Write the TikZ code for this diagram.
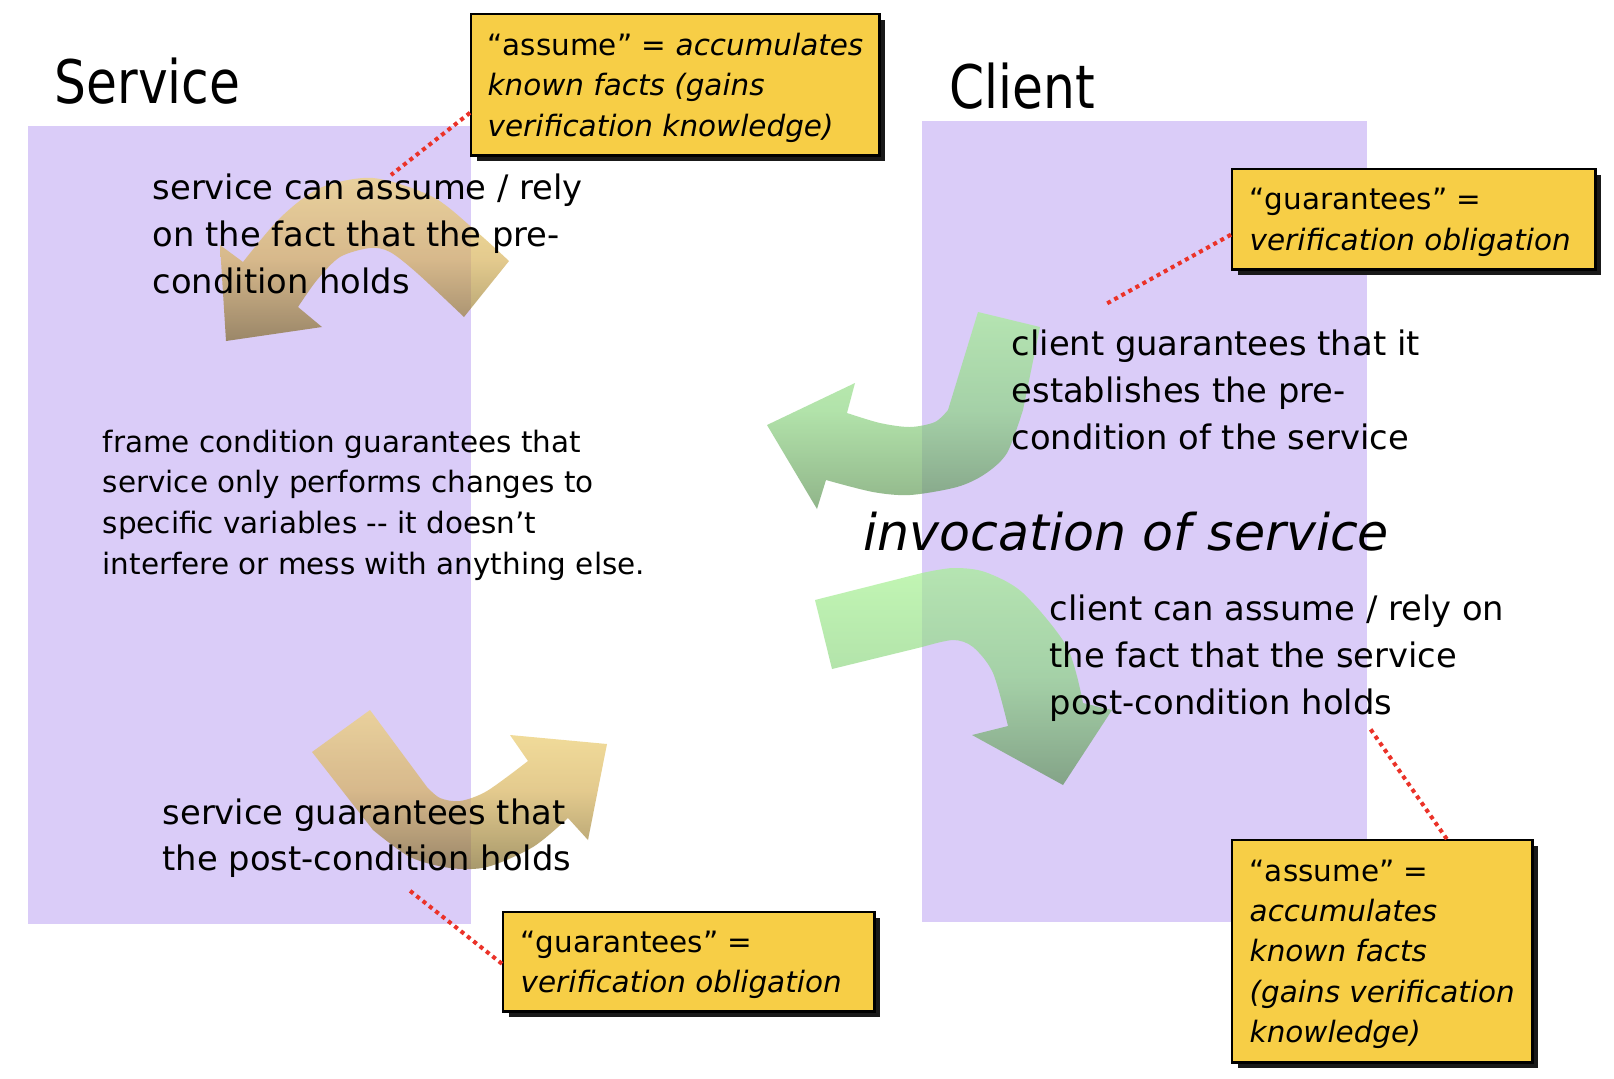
\documentclass[tikz,border=0pt]{standalone}
\usepackage{fontspec}
\setmainfont{DejaVu Sans}[ItalicFont={DejaVu Sans Oblique}]
\newfontfamily\titlefam{DejaVu Sans Condensed}[FakeStretch=0.93]
\usetikzlibrary{calc,shadows}
\definecolor{lav}{RGB}{218,204,248}
\definecolor{calloutfill}{RGB}{247,206,70}
\definecolor{dotred}{RGB}{235,50,40}
\definecolor{tanL}{RGB}{242,212,108}
\definecolor{tanM}{RGB}{214,175,82}
\definecolor{tanD}{RGB}{121,98,28}
\definecolor{grnL}{RGB}{162,242,140}
\definecolor{grnM}{RGB}{137,212,125}
\definecolor{grnD}{RGB}{86,142,76}
\pgfdeclareverticalshading{tanshade}{100bp}{color(0bp)=(tanD); color(25bp)=(tanD); color(50bp)=(tanM); color(75bp)=(tanL); color(100bp)=(tanL)}
\pgfdeclareverticalshading{grnshade}{100bp}{color(0bp)=(grnD); color(25bp)=(grnD); color(50bp)=(grnM); color(75bp)=(grnL); color(100bp)=(grnL)}
\newcommand\bodyfont{\fontsize{9.6pt}{13.37pt}\selectfont}
\newcommand\smallfont{\fontsize{8.37pt}{11.5pt}\selectfont}
\newcommand\invfont{\fontsize{14.4pt}{17pt}\selectfont\itshape}
\newcommand\titlefont{\titlefam\fontsize{17.07pt}{20pt}\selectfont}
\tikzset{
  panel/.style={fill=lav, draw=none},
  bigtxt/.style={anchor=north west, inner sep=0pt, align=left, font=\bodyfont},
  smalltxt/.style={anchor=north west, inner sep=0pt, align=left, font=\smallfont},
  titletxt/.style={anchor=base west, inner sep=0pt, font=\titlefont},
  callout/.style={draw=black, line width=0.7pt, fill=calloutfill, anchor=north west,
    inner sep=0pt,
    drop shadow={shadow xshift=0.06cm, shadow yshift=-0.06cm, fill=black!90, opacity=1}},
  callouttxt/.style={anchor=west, inner sep=0pt, align=left, font=\smallfont},
  tanarrow/.style={shading=tanshade, fill opacity=0.65, draw=none},
  grnarrow/.style={shading=grnshade, fill opacity=0.65, draw=none},
  reddots/.style={draw=dotred, line width=1.15pt, dash pattern=on 1.15pt off 1.15pt}
}
\begin{document}
\begin{tikzpicture}[x=0.01cm, y=-0.01cm]
\useasboundingbox (0,0) rectangle (1614,1078);
\fill[white] (0,0) rectangle (1614,1078);
% panels
\path[panel] (28,126) rectangle (471,924);
\path[panel] (922,121) rectangle (1367,922);
% tan arrow top
\path[tanarrow] (464,317) -- (509,261)
  -- plot[smooth] coordinates {(509,261) (477,232) (433,197) (373,178) (320,188) (280,218) (243,262)}
  -- (220,245) -- (226,341) -- (322,327) -- (298,307)
  -- plot[smooth] coordinates {(298,307) (317,280) (340,257) (370,248) (390,252) (417,273) (464,317)}
  -- cycle;
% tan arrow bottom
\path[tanarrow] (312,752) -- (370,710) -- (427,787)
  -- plot[smooth] coordinates {(427,787) (440,798) (460,801) (487,791) (528,761)}
  -- (510,735) -- (607,744) -- (588,840) -- (568,818)
  -- plot[smooth] coordinates {(568,818) (533,847) (487,867) (450,868) (410,857) (373,830)}
  -- cycle;
% green arrow upper
\path[grnarrow] (978,312) -- (1040,327) -- (1023,410)
  -- plot[smooth] coordinates {(1023,410) (1007,453) (985,474) (957,487) (910,495) (873,492) (826,480)}
  -- (817,509) -- (767,425) -- (855,383) -- (847,413)
  -- plot[smooth] coordinates {(847,413) (880,423) (910,427) (935,422) (948,410)}
  -- cycle;
% green arrow lower
\path[grnarrow] (815,600) -- (832,669) -- (922,647)
  -- plot[smooth] coordinates {(922,647) (953,640) (973,647) (993,673) (1008,726)}
  -- (972,735) -- (1063,785) -- (1112,710) -- (1083,703)
  -- plot[smooth] coordinates {(1083,703) (1067,647) (1023,593) (985,572) (953,568) (922,573)}
  -- cycle;
% titles
\node[titletxt] (tS) at (54,103) {Service};
\node[titletxt] (tC) at (949,108) {Client};
% texts
\node[bigtxt] (s1) at (152,173) {service can assume / rely\\on the fact that the pre-\\condition holds};
\node[smalltxt, font=\fontsize{8.37pt}{11.58pt}\selectfont] (fr) at (102,429) {frame condition guarantees that\\service only performs changes to\\specific variables -{}- it doesn’t\\interfere or mess with anything else.};
\node[bigtxt, font=\fontsize{9.6pt}{13.09pt}\selectfont] (s2) at (162,798) {service guarantees that\\the post-condition holds};
\node[bigtxt] (k1) at (1011,329) {client guarantees that it\\establishes the pre-\\condition of the service};
\node[bigtxt] (k2) at (1049,594) {client can assume / rely on\\the fact that the service\\post-condition holds};
\node[anchor=base west, inner sep=0pt, font=\invfont] (inv) at (863,550) {invocation of service};
% callouts
\node[callout, minimum width=4.08cm, minimum height=1.41cm] (c1) at (470,13) {};
\node[callout, minimum width=3.63cm, minimum height=1.00cm] (c2) at (1231,168) {};
\node[callout, minimum width=3.71cm, minimum height=0.99cm] (c3) at (502,911) {};
\node[callout, minimum width=3.00cm, minimum height=2.22cm] (c4) at (1231,839) {};
\node[callouttxt] (c1t) at ($(c1.west)+(17,3)$)
  {“assume” = \textit{accumulates}\\\textit{known facts (gains}\\\textit{verification knowledge)}};
\node[callouttxt] (c2t) at ($(c2.west)+(18,3)$)
  {“guarantees” =\\\textit{verification obligation}};
\node[callouttxt] (c3t) at ($(c3.west)+(18,3)$)
  {“guarantees” =\\\textit{verification obligation}};
\node[callouttxt] (c4t) at ($(c4.west)+(18,3)$)
  {“assume” =\\\textit{accumulates}\\\textit{known facts}\\\textit{(gains verification}\\\textit{knowledge)}};
% dotted connectors
\coordinate (e1) at (391,175);
\coordinate (e2) at (1106,304);
\coordinate (e3) at (409,890);
\coordinate (e4) at (1369,727);
\draw[reddots] ($(c1.north west)!0.695!(c1.south west)$) -- (e1);
\draw[reddots] ($(c2.north west)!0.65!(c2.south west)$) -- (e2);
\draw[reddots] ($(c3.north west)!0.52!(c3.south west)$) -- (e3);
\draw[reddots] ($(c4.north west)!0.713!(c4.north east)$) -- (e4);
\end{tikzpicture}
\end{document}
